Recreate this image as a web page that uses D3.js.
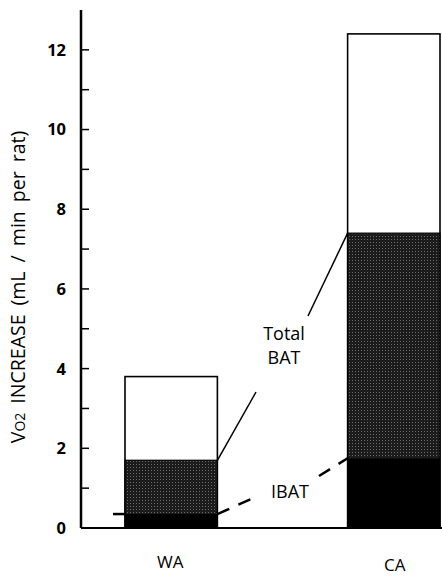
<!DOCTYPE html>
<html>
<head>
<meta charset="utf-8">
<script src="https://cdn.jsdelivr.net/npm/d3@7"></script>
<style>
  body { margin: 0; background: #fff; }
  svg { display: block; font-family: "Open Sans", "Lato", sans-serif; }
</style>
</head>
<body>
<div id="graph"></div>
<script>
// DATA
const groups = ["WA", "CA"]
const totalValues = [3.8, 12.4]   // whole bar (white top)
const batValues = [1.7, 7.4]      // total BAT (stippled)
const ibatValues = [0.35, 1.75]   // IBAT (black)
const tickValues = [0, 2, 4, 6, 8, 10, 12]
const minorTicks = [1, 3, 5, 7, 9, 11]

// Set graph dimensions
const width = 442, height = 576
const margin = { top: 10, right: 0, bottom: 48, left: 81 }
const gHeight = height - margin.top - margin.bottom

const svg = d3.select('#graph').append("svg").attr("width", width).attr("height", height)
const graph = svg.append('g').attr("transform", `translate(${margin.left}, ${margin.top})`)

// stipple pattern for total BAT
const defs = svg.append("defs")
const pat = defs.append("pattern").attr("id", "stipple")
  .attr("patternUnits", "userSpaceOnUse").attr("width", 3).attr("height", 3)
pat.append("rect").attr("width", 3).attr("height", 3).attr("fill", "#1c1c1c")
pat.append("rect").attr("x", 1).attr("y", 1).attr("width", 1).attr("height", 1).attr("fill", "#6a6a6a")

// Scales
const yScale = d3.scaleLinear().domain([0, 13]).range([gHeight, 0])
const xScale = d3.scaleBand().domain(groups).range([44, 359]).paddingInner(0.585).paddingOuter(0)

const bw = xScale.bandwidth()

// bars: white top, stippled BAT, black IBAT
groups.forEach((g, i) => {
  const x = xScale(g)
  graph.append("rect").attr("x", x).attr("y", yScale(totalValues[i]))
    .attr("width", bw).attr("height", yScale(0) - yScale(totalValues[i]))
    .attr("fill", "#fff").attr("stroke", "#000").attr("stroke-width", 1.6)
  graph.append("rect").attr("x", x).attr("y", yScale(batValues[i]))
    .attr("width", bw).attr("height", yScale(0) - yScale(batValues[i]))
    .attr("fill", "url(#stipple)").attr("stroke", "#000").attr("stroke-width", 1.2)
  graph.append("rect").attr("x", x).attr("y", yScale(ibatValues[i]))
    .attr("width", bw).attr("height", yScale(0) - yScale(ibatValues[i]))
    .attr("fill", "#000")
})

// y axis with inward ticks
const yAxis = graph.append("g")
yAxis.append("line").attr("x1", 0).attr("x2", 0).attr("y1", yScale(13)).attr("y2", yScale(0))
  .attr("stroke", "#000").attr("stroke-width", 2.5)
yAxis.selectAll(".major").data(tickValues).enter().append("line")
  .attr("x1", 0).attr("x2", 8).attr("y1", d => yScale(d)).attr("y2", d => yScale(d))
  .attr("stroke", "#000").attr("stroke-width", 1.5)
yAxis.selectAll(".minor").data(minorTicks).enter().append("line")
  .attr("x1", 0).attr("x2", 8).attr("y1", d => yScale(d)).attr("y2", d => yScale(d))
  .attr("stroke", "#000").attr("stroke-width", 1.5)
yAxis.selectAll(".tlabel").data(tickValues).enter().append("text")
  .attr("x", -15).attr("y", d => yScale(d)).attr("dy", "0.36em")
  .attr("text-anchor", "end").attr("font-size", 16.5).attr("font-weight", "bold")
  .text(d => d)

// baseline
graph.append("line").attr("x1", 0).attr("x2", width).attr("y1", yScale(0)).attr("y2", yScale(0))
  .attr("stroke", "#000").attr("stroke-width", 2)

// x labels
groups.forEach((g, i) => {
  graph.append("text").attr("x", xScale(g) + bw / 2 + (i ? 1 : -1)).attr("y", yScale(0) + 40 + (i ? 3 : 0))
    .attr("text-anchor", "middle").attr("font-size", 17).text(g)
})

// Total BAT label with leader lines
const wa = xScale("WA") + bw, ca = xScale("CA")
graph.append("text").attr("x", 203).attr("y", yScale(0) - 188)
  .attr("text-anchor", "middle").attr("font-size", 18).text("Total")
graph.append("text").attr("x", 203).attr("y", yScale(0) - 164)
  .attr("text-anchor", "middle").attr("font-size", 18).text("BAT")
graph.append("line").attr("x1", 227).attr("y1", yScale(0) - 212)
  .attr("x2", ca).attr("y2", yScale(batValues[1]))
  .attr("stroke", "#000").attr("stroke-width", 1.5)
graph.append("line").attr("x1", 175).attr("y1", yScale(0) - 136)
  .attr("x2", wa).attr("y2", yScale(batValues[0]))
  .attr("stroke", "#000").attr("stroke-width", 1.5)

// IBAT label with dashed connector
graph.append("text").attr("x", 209).attr("y", yScale(0) - 30)
  .attr("text-anchor", "middle").attr("font-size", 18).text("IBAT")
const dash = { stroke: "#000", "stroke-width": 2.5, "stroke-dasharray": "13,10" }
function dline(x1, y1, x2, y2) {
  const l = graph.append("line").attr("x1", x1).attr("y1", y1).attr("x2", x2).attr("y2", y2)
  Object.entries(dash).forEach(([k, v]) => l.attr(k, v))
}
dline(32, yScale(ibatValues[0]), xScale("WA"), yScale(ibatValues[0]))
dline(wa, yScale(ibatValues[0]), 177, yScale(0) - 32)
dline(238, yScale(0) - 52, ca, yScale(ibatValues[1]))

// y axis title
const title = svg.append("text").attr("transform", "translate(25, 287) rotate(-90)")
  .attr("text-anchor", "middle").attr("font-size", 19.5).attr("word-spacing", 4)
title.append("tspan").text("V")
title.append("tspan").attr("font-size", 14).text("O2")
title.append("tspan").text("  INCREASE (mL / min per rat)")
</script>
</body>
</html>
